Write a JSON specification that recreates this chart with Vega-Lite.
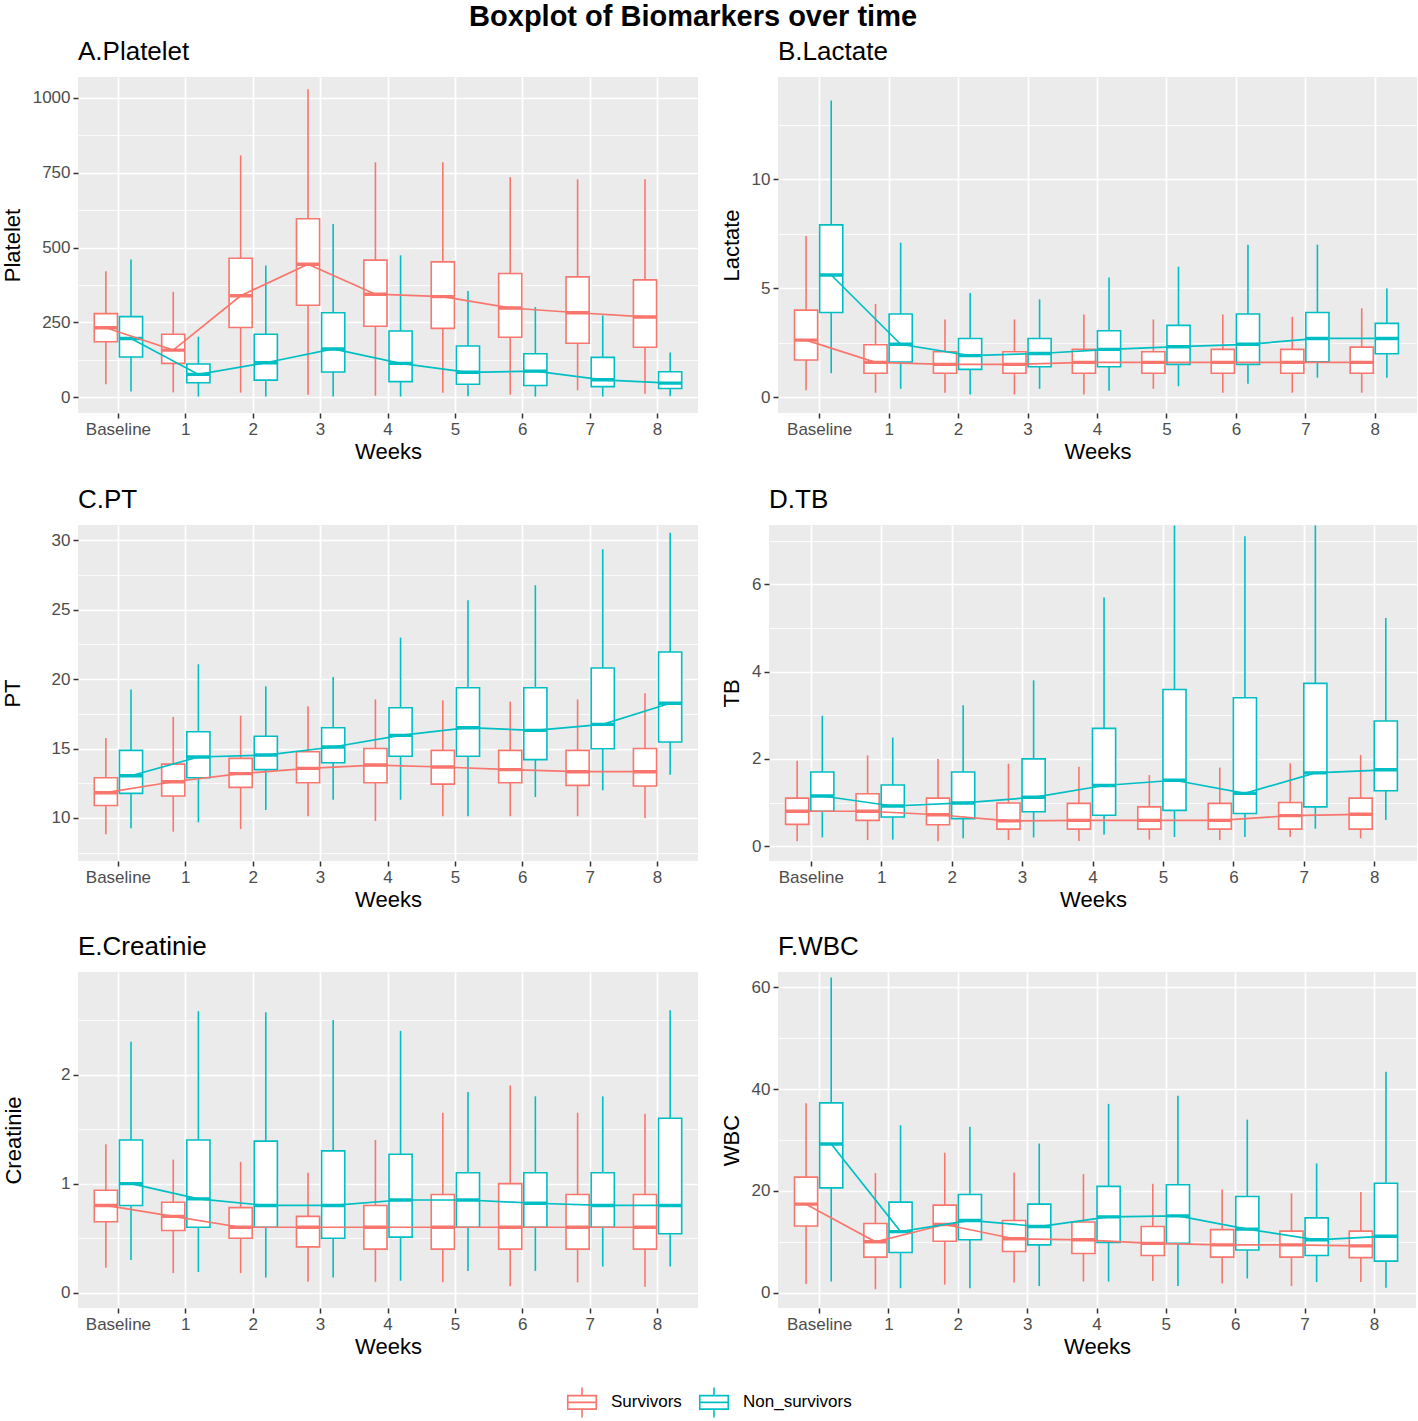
{
"$schema": "https://vega.github.io/schema/vega-lite/v6.json",
"title": {"text": "Boxplot of Biomarkers over time", "anchor": "middle", "frame": "bounds", "fontSize": 29, "fontWeight": "bold", "color": "black", "offset": 7, "dx": -16},
"padding": {"left": 1, "top": 3, "right": 2, "bottom": 2},
"background": "white",
"data": {"values": [
{"panel":"Platelet","week":"Baseline","group":"Survivors","lo":43,"q1":185,"med":232,"q3":279,"hi":421},
{"panel":"Platelet","week":"Baseline","group":"Non_survivors","lo":19,"q1":134,"med":196,"q3":269,"hi":460},
{"panel":"Platelet","week":"1","group":"Survivors","lo":16,"q1":113,"med":157,"q3":210,"hi":352},
{"panel":"Platelet","week":"1","group":"Non_survivors","lo":2,"q1":48,"med":76,"q3":111,"hi":202},
{"panel":"Platelet","week":"2","group":"Survivors","lo":15,"q1":233,"med":339,"q3":464,"hi":808},
{"panel":"Platelet","week":"2","group":"Non_survivors","lo":2,"q1":57,"med":115,"q3":210,"hi":440},
{"panel":"Platelet","week":"3","group":"Survivors","lo":8,"q1":307,"med":444,"q3":596,"hi":1029},
{"panel":"Platelet","week":"3","group":"Non_survivors","lo":2,"q1":84,"med":161,"q3":282,"hi":579},
{"panel":"Platelet","week":"4","group":"Survivors","lo":5,"q1":237,"med":344,"q3":458,"hi":785},
{"panel":"Platelet","week":"4","group":"Non_survivors","lo":2,"q1":52,"med":113,"q3":221,"hi":474},
{"panel":"Platelet","week":"5","group":"Survivors","lo":15,"q1":230,"med":336,"q3":452,"hi":785},
{"panel":"Platelet","week":"5","group":"Non_survivors","lo":3,"q1":43,"med":83,"q3":171,"hi":355},
{"panel":"Platelet","week":"6","group":"Survivors","lo":8,"q1":200,"med":298,"q3":413,"hi":735},
{"panel":"Platelet","week":"6","group":"Non_survivors","lo":2,"q1":39,"med":87,"q3":145,"hi":301},
{"panel":"Platelet","week":"7","group":"Survivors","lo":23,"q1":180,"med":282,"q3":402,"hi":728},
{"panel":"Platelet","week":"7","group":"Non_survivors","lo":2,"q1":35,"med":58,"q3":133,"hi":273},
{"panel":"Platelet","week":"8","group":"Survivors","lo":11,"q1":167,"med":268,"q3":392,"hi":728},
{"panel":"Platelet","week":"8","group":"Non_survivors","lo":3,"q1":29,"med":47,"q3":85,"hi":149},
{"panel":"Lactate","week":"Baseline","group":"Survivors","lo":0.31,"q1":1.70,"med":2.61,"q3":3.99,"hi":7.39},
{"panel":"Lactate","week":"Baseline","group":"Non_survivors","lo":1.09,"q1":3.88,"med":5.6,"q3":7.9,"hi":13.6},
{"panel":"Lactate","week":"1","group":"Survivors","lo":0.2,"q1":1.09,"med":1.59,"q3":2.4,"hi":4.27},
{"panel":"Lactate","week":"1","group":"Non_survivors","lo":0.38,"q1":1.61,"med":2.42,"q3":3.81,"hi":7.08},
{"panel":"Lactate","week":"2","group":"Survivors","lo":0.2,"q1":1.09,"med":1.5,"q3":2.08,"hi":3.56},
{"panel":"Lactate","week":"2","group":"Non_survivors","lo":0.12,"q1":1.27,"med":1.9,"q3":2.69,"hi":4.77},
{"panel":"Lactate","week":"3","group":"Survivors","lo":0.12,"q1":1.09,"med":1.5,"q3":2.08,"hi":3.56},
{"panel":"Lactate","week":"3","group":"Non_survivors","lo":0.38,"q1":1.39,"med":2.0,"q3":2.69,"hi":4.48},
{"panel":"Lactate","week":"4","group":"Survivors","lo":0.12,"q1":1.09,"med":1.59,"q3":2.19,"hi":3.79},
{"panel":"Lactate","week":"4","group":"Non_survivors","lo":0.29,"q1":1.39,"med":2.19,"q3":3.04,"hi":5.49},
{"panel":"Lactate","week":"5","group":"Survivors","lo":0.38,"q1":1.09,"med":1.59,"q3":2.08,"hi":3.56},
{"panel":"Lactate","week":"5","group":"Non_survivors","lo":0.5,"q1":1.5,"med":2.31,"q3":3.29,"hi":5.98},
{"panel":"Lactate","week":"6","group":"Survivors","lo":0.2,"q1":1.09,"med":1.59,"q3":2.19,"hi":3.79},
{"panel":"Lactate","week":"6","group":"Non_survivors","lo":0.61,"q1":1.5,"med":2.42,"q3":3.81,"hi":6.99},
{"panel":"Lactate","week":"7","group":"Survivors","lo":0.2,"q1":1.09,"med":1.59,"q3":2.19,"hi":3.68},
{"panel":"Lactate","week":"7","group":"Non_survivors","lo":0.89,"q1":1.62,"med":2.69,"q3":3.88,"hi":6.99},
{"panel":"Lactate","week":"8","group":"Survivors","lo":0.2,"q1":1.09,"med":1.59,"q3":2.29,"hi":4.07},
{"panel":"Lactate","week":"8","group":"Non_survivors","lo":0.89,"q1":1.99,"med":2.69,"q3":3.38,"hi":4.98},
{"panel":"PT","week":"Baseline","group":"Survivors","lo":8.82,"q1":10.9,"med":11.82,"q3":12.9,"hi":15.76},
{"panel":"PT","week":"Baseline","group":"Non_survivors","lo":9.25,"q1":11.77,"med":13.04,"q3":14.87,"hi":19.26},
{"panel":"PT","week":"1","group":"Survivors","lo":9.01,"q1":11.58,"med":12.61,"q3":13.88,"hi":17.27},
{"panel":"PT","week":"1","group":"Non_survivors","lo":9.68,"q1":12.9,"med":14.39,"q3":16.21,"hi":21.07},
{"panel":"PT","week":"2","group":"Survivors","lo":9.2,"q1":12.2,"med":13.19,"q3":14.29,"hi":17.37},
{"panel":"PT","week":"2","group":"Non_survivors","lo":10.57,"q1":13.48,"med":14.53,"q3":15.88,"hi":19.48},
{"panel":"PT","week":"3","group":"Survivors","lo":10.12,"q1":12.54,"med":13.57,"q3":14.77,"hi":18.04},
{"panel":"PT","week":"3","group":"Non_survivors","lo":11.31,"q1":13.98,"med":15.11,"q3":16.5,"hi":20.15},
{"panel":"PT","week":"4","group":"Survivors","lo":9.78,"q1":12.54,"med":13.81,"q3":15.0,"hi":18.54},
{"panel":"PT","week":"4","group":"Non_survivors","lo":11.31,"q1":14.44,"med":15.95,"q3":17.94,"hi":22.99},
{"panel":"PT","week":"5","group":"Survivors","lo":10.12,"q1":12.44,"med":13.67,"q3":14.87,"hi":18.47},
{"panel":"PT","week":"5","group":"Non_survivors","lo":10.12,"q1":14.44,"med":16.5,"q3":19.38,"hi":25.68},
{"panel":"PT","week":"6","group":"Survivors","lo":10.12,"q1":12.54,"med":13.48,"q3":14.87,"hi":18.37},
{"panel":"PT","week":"6","group":"Non_survivors","lo":11.51,"q1":14.2,"med":16.31,"q3":19.38,"hi":26.76},
{"panel":"PT","week":"7","group":"Survivors","lo":10.12,"q1":12.35,"med":13.33,"q3":14.87,"hi":18.54},
{"panel":"PT","week":"7","group":"Non_survivors","lo":11.99,"q1":14.99,"med":16.74,"q3":20.8,"hi":29.35},
{"panel":"PT","week":"8","group":"Survivors","lo":10.0,"q1":12.3,"med":13.33,"q3":15.0,"hi":18.98},
{"panel":"PT","week":"8","group":"Non_survivors","lo":13.11,"q1":15.47,"med":18.26,"q3":21.95,"hi":30.55},
{"panel":"TB","week":"Baseline","group":"Survivors","lo":0.11,"q1":0.5,"med":0.8,"q3":1.1,"hi":1.96},
{"panel":"TB","week":"Baseline","group":"Non_survivors","lo":0.2,"q1":0.8,"med":1.15,"q3":1.7,"hi":2.99},
{"panel":"TB","week":"1","group":"Survivors","lo":0.14,"q1":0.59,"med":0.8,"q3":1.2,"hi":2.08},
{"panel":"TB","week":"1","group":"Non_survivors","lo":0.15,"q1":0.67,"med":0.92,"q3":1.4,"hi":2.49},
{"panel":"TB","week":"2","group":"Survivors","lo":0.11,"q1":0.49,"med":0.72,"q3":1.1,"hi":2.0},
{"panel":"TB","week":"2","group":"Non_survivors","lo":0.18,"q1":0.63,"med":0.99,"q3":1.7,"hi":3.23},
{"panel":"TB","week":"3","group":"Survivors","lo":0.14,"q1":0.39,"med":0.58,"q3":0.99,"hi":1.89},
{"panel":"TB","week":"3","group":"Non_survivors","lo":0.2,"q1":0.79,"med":1.12,"q3":2.0,"hi":3.8},
{"panel":"TB","week":"4","group":"Survivors","lo":0.12,"q1":0.39,"med":0.59,"q3":0.98,"hi":1.82},
{"panel":"TB","week":"4","group":"Non_survivors","lo":0.27,"q1":0.71,"med":1.39,"q3":2.7,"hi":5.7},
{"panel":"TB","week":"5","group":"Survivors","lo":0.15,"q1":0.39,"med":0.59,"q3":0.9,"hi":1.63},
{"panel":"TB","week":"5","group":"Non_survivors","lo":0.21,"q1":0.82,"med":1.51,"q3":3.59,"hi":7.35},
{"panel":"TB","week":"6","group":"Survivors","lo":0.14,"q1":0.39,"med":0.59,"q3":0.98,"hi":1.8},
{"panel":"TB","week":"6","group":"Non_survivors","lo":0.21,"q1":0.75,"med":1.21,"q3":3.4,"hi":7.1},
{"panel":"TB","week":"7","group":"Survivors","lo":0.21,"q1":0.39,"med":0.7,"q3":1.0,"hi":1.9},
{"panel":"TB","week":"7","group":"Non_survivors","lo":0.4,"q1":0.9,"med":1.68,"q3":3.73,"hi":7.35},
{"panel":"TB","week":"8","group":"Survivors","lo":0.18,"q1":0.39,"med":0.73,"q3":1.1,"hi":2.09},
{"panel":"TB","week":"8","group":"Non_survivors","lo":0.6,"q1":1.27,"med":1.75,"q3":2.87,"hi":5.23},
{"panel":"Creatinie","week":"Baseline","group":"Survivors","lo":0.23,"q1":0.65,"med":0.8,"q3":0.94,"hi":1.36},
{"panel":"Creatinie","week":"Baseline","group":"Non_survivors","lo":0.3,"q1":0.8,"med":1.0,"q3":1.4,"hi":2.3},
{"panel":"Creatinie","week":"1","group":"Survivors","lo":0.18,"q1":0.57,"med":0.7,"q3":0.83,"hi":1.22},
{"panel":"Creatinie","week":"1","group":"Non_survivors","lo":0.19,"q1":0.6,"med":0.86,"q3":1.4,"hi":2.58},
{"panel":"Creatinie","week":"2","group":"Survivors","lo":0.18,"q1":0.5,"med":0.6,"q3":0.78,"hi":1.2},
{"panel":"Creatinie","week":"2","group":"Non_survivors","lo":0.14,"q1":0.6,"med":0.8,"q3":1.39,"hi":2.57},
{"panel":"Creatinie","week":"3","group":"Survivors","lo":0.1,"q1":0.42,"med":0.6,"q3":0.7,"hi":1.1},
{"panel":"Creatinie","week":"3","group":"Non_survivors","lo":0.14,"q1":0.5,"med":0.8,"q3":1.3,"hi":2.5},
{"panel":"Creatinie","week":"4","group":"Survivors","lo":0.1,"q1":0.4,"med":0.6,"q3":0.8,"hi":1.4},
{"panel":"Creatinie","week":"4","group":"Non_survivors","lo":0.11,"q1":0.51,"med":0.85,"q3":1.27,"hi":2.4},
{"panel":"Creatinie","week":"5","group":"Survivors","lo":0.095,"q1":0.4,"med":0.6,"q3":0.9,"hi":1.65},
{"panel":"Creatinie","week":"5","group":"Non_survivors","lo":0.2,"q1":0.6,"med":0.85,"q3":1.1,"hi":1.84},
{"panel":"Creatinie","week":"6","group":"Survivors","lo":0.06,"q1":0.4,"med":0.6,"q3":1.0,"hi":1.9},
{"panel":"Creatinie","week":"6","group":"Non_survivors","lo":0.2,"q1":0.6,"med":0.82,"q3":1.1,"hi":1.8},
{"panel":"Creatinie","week":"7","group":"Survivors","lo":0.095,"q1":0.4,"med":0.6,"q3":0.9,"hi":1.65},
{"panel":"Creatinie","week":"7","group":"Non_survivors","lo":0.24,"q1":0.6,"med":0.8,"q3":1.1,"hi":1.8},
{"panel":"Creatinie","week":"8","group":"Survivors","lo":0.055,"q1":0.4,"med":0.6,"q3":0.9,"hi":1.64},
{"panel":"Creatinie","week":"8","group":"Non_survivors","lo":0.24,"q1":0.54,"med":0.8,"q3":1.6,"hi":2.59},
{"panel":"WBC","week":"Baseline","group":"Survivors","lo":1.7,"q1":13.1,"med":17.4,"q3":22.7,"hi":37.2},
{"panel":"WBC","week":"Baseline","group":"Non_survivors","lo":2.2,"q1":20.6,"med":29.2,"q3":37.3,"hi":61.9},
{"panel":"WBC","week":"1","group":"Survivors","lo":0.7,"q1":7.0,"med":10.0,"q3":13.6,"hi":23.5},
{"panel":"WBC","week":"1","group":"Non_survivors","lo":0.9,"q1":7.9,"med":12.0,"q3":17.8,"hi":32.9},
{"panel":"WBC","week":"2","group":"Survivors","lo":1.6,"q1":10.1,"med":13.4,"q3":17.2,"hi":27.5},
{"panel":"WBC","week":"2","group":"Non_survivors","lo":0.9,"q1":10.4,"med":14.2,"q3":19.3,"hi":32.6},
{"panel":"WBC","week":"3","group":"Survivors","lo":2.0,"q1":8.1,"med":10.6,"q3":14.2,"hi":23.6},
{"panel":"WBC","week":"3","group":"Non_survivors","lo":1.3,"q1":9.4,"med":13.0,"q3":17.4,"hi":29.3},
{"panel":"WBC","week":"4","group":"Survivors","lo":2.2,"q1":7.7,"med":10.4,"q3":13.9,"hi":23.3},
{"panel":"WBC","week":"4","group":"Non_survivors","lo":2.2,"q1":9.9,"med":14.9,"q3":20.9,"hi":37.1},
{"panel":"WBC","week":"5","group":"Survivors","lo":2.3,"q1":7.3,"med":9.7,"q3":13.0,"hi":21.4},
{"panel":"WBC","week":"5","group":"Non_survivors","lo":1.3,"q1":9.7,"med":15.1,"q3":21.2,"hi":38.7},
{"panel":"WBC","week":"6","group":"Survivors","lo":1.8,"q1":7.0,"med":9.4,"q3":12.4,"hi":20.3},
{"panel":"WBC","week":"6","group":"Non_survivors","lo":2.8,"q1":8.4,"med":12.5,"q3":18.9,"hi":34.0},
{"panel":"WBC","week":"7","group":"Survivors","lo":1.3,"q1":7.0,"med":9.4,"q3":12.1,"hi":19.5},
{"panel":"WBC","week":"7","group":"Non_survivors","lo":2.1,"q1":7.3,"med":10.4,"q3":14.7,"hi":25.4},
{"panel":"WBC","week":"8","group":"Survivors","lo":2.1,"q1":6.9,"med":9.2,"q3":12.1,"hi":19.8},
{"panel":"WBC","week":"8","group":"Non_survivors","lo":1.0,"q1":6.2,"med":11.1,"q3":21.5,"hi":43.4}
]},
"spacing": 24,
"vconcat": [
{"spacing": 22, "hconcat": [
{
 "title": {"text": "A.Platelet"},
 "width": 620, "height": 336,
 "transform": [{"filter": "datum.panel === 'Platelet'"}],
 "encoding": {
  "x": {"field": "week", "type": "nominal", "sort": ["Baseline","1","2","3","4","5","6","7","8"], "scale": {"paddingInner": 0, "paddingOuter": 0.1}, "axis": {"title": "Weeks", "grid": true, "bandPosition": 0.5, "labelAngle": 0}},
  "xOffset": {"field": "group", "type": "nominal", "sort": ["Survivors","Non_survivors"], "scale": {"paddingInner": 0.08, "paddingOuter": 0.38}},
  "color": {"field": "group", "type": "nominal", "scale": {"domain": ["Survivors","Non_survivors"], "range": ["#F8766D","#00BFC4"]}, "legend": {"title": null}}
 },
 "layer": [
  {"mark": {"type": "rule", "strokeWidth": 1.6}, "encoding": {"y": {"field": "lo", "type": "quantitative", "scale": {"domain": [-53, 1070], "nice": false, "zero": false}, "axis": {"title": "Platelet", "values": [0,250,500,750,1000], "format": "d"}}, "y2": {"field": "hi"}}},
  {"mark": {"type": "bar", "filled": false, "fill": "white", "strokeWidth": 1.6}, "encoding": {"y": {"field": "q1", "type": "quantitative", "axis": {"orient": "right", "values": [125,375,625,875], "labels": false, "ticks": false, "domain": false, "title": null, "grid": true, "gridWidth": 0.8, "minExtent": 0, "maxExtent": 0}}, "y2": {"field": "q3"}}},
  {"mark": {"type": "bar", "filled": false, "strokeWidth": 3.4}, "encoding": {"y": {"field": "med", "type": "quantitative", "axis": null}, "y2": {"field": "med"}}},
  {"mark": {"type": "line", "strokeWidth": 1.7}, "encoding": {"y": {"field": "med", "type": "quantitative", "axis": null}}}
 ],
 "resolve": {"axis": {"y": "independent"}}
},
{
 "title": {"text": "B.Lactate"},
 "width": 639, "height": 336,
 "transform": [{"filter": "datum.panel === 'Lactate'"}],
 "encoding": {
  "x": {"field": "week", "type": "nominal", "sort": ["Baseline","1","2","3","4","5","6","7","8"], "scale": {"paddingInner": 0, "paddingOuter": 0.1}, "axis": {"title": "Weeks", "grid": true, "bandPosition": 0.5, "labelAngle": 0}},
  "xOffset": {"field": "group", "type": "nominal", "sort": ["Survivors","Non_survivors"], "scale": {"paddingInner": 0.08, "paddingOuter": 0.38}},
  "color": {"field": "group", "type": "nominal", "scale": {"domain": ["Survivors","Non_survivors"], "range": ["#F8766D","#00BFC4"]}, "legend": {"title": null}}
 },
 "layer": [
  {"mark": {"type": "rule", "strokeWidth": 1.6}, "encoding": {"y": {"field": "lo", "type": "quantitative", "scale": {"domain": [-0.73, 14.68], "nice": false, "zero": false}, "axis": {"title": "Lactate", "values": [0,5,10]}}, "y2": {"field": "hi"}}},
  {"mark": {"type": "bar", "filled": false, "fill": "white", "strokeWidth": 1.6}, "encoding": {"y": {"field": "q1", "type": "quantitative", "axis": {"orient": "right", "values": [2.5,7.5,12.5], "labels": false, "ticks": false, "domain": false, "title": null, "grid": true, "gridWidth": 0.8, "minExtent": 0, "maxExtent": 0}}, "y2": {"field": "q3"}}},
  {"mark": {"type": "bar", "filled": false, "strokeWidth": 3.4}, "encoding": {"y": {"field": "med", "type": "quantitative", "axis": null}, "y2": {"field": "med"}}},
  {"mark": {"type": "line", "strokeWidth": 1.7}, "encoding": {"y": {"field": "med", "type": "quantitative", "axis": null}}}
 ],
 "resolve": {"axis": {"y": "independent"}}
}
]},
{"spacing": 22, "hconcat": [
{
 "title": {"text": "C.PT"},
 "width": 620, "height": 336,
 "transform": [{"filter": "datum.panel === 'PT'"}],
 "encoding": {
  "x": {"field": "week", "type": "nominal", "sort": ["Baseline","1","2","3","4","5","6","7","8"], "scale": {"paddingInner": 0, "paddingOuter": 0.1}, "axis": {"title": "Weeks", "grid": true, "bandPosition": 0.5, "labelAngle": 0}},
  "xOffset": {"field": "group", "type": "nominal", "sort": ["Survivors","Non_survivors"], "scale": {"paddingInner": 0.08, "paddingOuter": 0.38}},
  "color": {"field": "group", "type": "nominal", "scale": {"domain": ["Survivors","Non_survivors"], "range": ["#F8766D","#00BFC4"]}, "legend": {"title": null}}
 },
 "layer": [
  {"mark": {"type": "rule", "strokeWidth": 1.6}, "encoding": {"y": {"field": "lo", "type": "quantitative", "scale": {"domain": [6.9, 31.1], "nice": false, "zero": false}, "axis": {"title": "PT", "values": [10,15,20,25,30], "titlePadding": 26.5}}, "y2": {"field": "hi"}}},
  {"mark": {"type": "bar", "filled": false, "fill": "white", "strokeWidth": 1.6}, "encoding": {"y": {"field": "q1", "type": "quantitative", "axis": {"orient": "right", "values": [7.5,12.5,17.5,22.5,27.5], "labels": false, "ticks": false, "domain": false, "title": null, "grid": true, "gridWidth": 0.8, "minExtent": 0, "maxExtent": 0}}, "y2": {"field": "q3"}}},
  {"mark": {"type": "bar", "filled": false, "strokeWidth": 3.4}, "encoding": {"y": {"field": "med", "type": "quantitative", "axis": null}, "y2": {"field": "med"}}},
  {"mark": {"type": "line", "strokeWidth": 1.7}, "encoding": {"y": {"field": "med", "type": "quantitative", "axis": null}}}
 ],
 "resolve": {"axis": {"y": "independent"}}
},
{
 "title": {"text": "D.TB"},
 "width": 648, "height": 336,
 "transform": [{"filter": "datum.panel === 'TB'"}],
 "encoding": {
  "x": {"field": "week", "type": "nominal", "sort": ["Baseline","1","2","3","4","5","6","7","8"], "scale": {"paddingInner": 0, "paddingOuter": 0.1}, "axis": {"title": "Weeks", "grid": true, "bandPosition": 0.5, "labelAngle": 0}},
  "xOffset": {"field": "group", "type": "nominal", "sort": ["Survivors","Non_survivors"], "scale": {"paddingInner": 0.08, "paddingOuter": 0.38}},
  "color": {"field": "group", "type": "nominal", "scale": {"domain": ["Survivors","Non_survivors"], "range": ["#F8766D","#00BFC4"]}, "legend": {"title": null}}
 },
 "layer": [
  {"mark": {"type": "rule", "strokeWidth": 1.6}, "encoding": {"y": {"field": "lo", "type": "quantitative", "scale": {"domain": [-0.34, 7.36], "nice": false, "zero": false}, "axis": {"title": "TB", "values": [0,2,4,6]}}, "y2": {"field": "hi"}}},
  {"mark": {"type": "bar", "filled": false, "fill": "white", "strokeWidth": 1.6}, "encoding": {"y": {"field": "q1", "type": "quantitative", "axis": {"orient": "right", "values": [1,3,5,7], "labels": false, "ticks": false, "domain": false, "title": null, "grid": true, "gridWidth": 0.8, "minExtent": 0, "maxExtent": 0}}, "y2": {"field": "q3"}}},
  {"mark": {"type": "bar", "filled": false, "strokeWidth": 3.4}, "encoding": {"y": {"field": "med", "type": "quantitative", "axis": null}, "y2": {"field": "med"}}},
  {"mark": {"type": "line", "strokeWidth": 1.7}, "encoding": {"y": {"field": "med", "type": "quantitative", "axis": null}}}
 ],
 "resolve": {"axis": {"y": "independent"}}
}
]},
{"spacing": 22, "hconcat": [
{
 "title": {"text": "E.Creatinie"},
 "width": 620, "height": 336,
 "transform": [{"filter": "datum.panel === 'Creatinie'"}],
 "encoding": {
  "x": {"field": "week", "type": "nominal", "sort": ["Baseline","1","2","3","4","5","6","7","8"], "scale": {"paddingInner": 0, "paddingOuter": 0.1}, "axis": {"title": "Weeks", "grid": true, "bandPosition": 0.5, "labelAngle": 0}},
  "xOffset": {"field": "group", "type": "nominal", "sort": ["Survivors","Non_survivors"], "scale": {"paddingInner": 0.08, "paddingOuter": 0.38}},
  "color": {"field": "group", "type": "nominal", "scale": {"domain": ["Survivors","Non_survivors"], "range": ["#F8766D","#00BFC4"]}, "legend": {"title": null}}
 },
 "layer": [
  {"mark": {"type": "rule", "strokeWidth": 1.6}, "encoding": {"y": {"field": "lo", "type": "quantitative", "scale": {"domain": [-0.14, 2.94], "nice": false, "zero": false}, "axis": {"title": "Creatinie", "values": [0,1,2], "titlePadding": 35.5}}, "y2": {"field": "hi"}}},
  {"mark": {"type": "bar", "filled": false, "fill": "white", "strokeWidth": 1.6}, "encoding": {"y": {"field": "q1", "type": "quantitative", "axis": {"orient": "right", "values": [0.5,1.5,2.5], "labels": false, "ticks": false, "domain": false, "title": null, "grid": true, "gridWidth": 0.8, "minExtent": 0, "maxExtent": 0}}, "y2": {"field": "q3"}}},
  {"mark": {"type": "bar", "filled": false, "strokeWidth": 3.4}, "encoding": {"y": {"field": "med", "type": "quantitative", "axis": null}, "y2": {"field": "med"}}},
  {"mark": {"type": "line", "strokeWidth": 1.7}, "encoding": {"y": {"field": "med", "type": "quantitative", "axis": null}}}
 ],
 "resolve": {"axis": {"y": "independent"}}
},
{
 "title": {"text": "F.WBC"},
 "width": 638, "height": 336,
 "transform": [{"filter": "datum.panel === 'WBC'"}],
 "encoding": {
  "x": {"field": "week", "type": "nominal", "sort": ["Baseline","1","2","3","4","5","6","7","8"], "scale": {"paddingInner": 0, "paddingOuter": 0.1}, "axis": {"title": "Weeks", "grid": true, "bandPosition": 0.5, "labelAngle": 0}},
  "xOffset": {"field": "group", "type": "nominal", "sort": ["Survivors","Non_survivors"], "scale": {"paddingInner": 0.08, "paddingOuter": 0.38}},
  "color": {"field": "group", "type": "nominal", "scale": {"domain": ["Survivors","Non_survivors"], "range": ["#F8766D","#00BFC4"]}, "legend": {"title": null}}
 },
 "layer": [
  {"mark": {"type": "rule", "strokeWidth": 1.6}, "encoding": {"y": {"field": "lo", "type": "quantitative", "scale": {"domain": [-3.0, 63.0], "nice": false, "zero": false}, "axis": {"title": "WBC", "values": [0,20,40,60]}}, "y2": {"field": "hi"}}},
  {"mark": {"type": "bar", "filled": false, "fill": "white", "strokeWidth": 1.6}, "encoding": {"y": {"field": "q1", "type": "quantitative", "axis": {"orient": "right", "values": [10,30,50], "labels": false, "ticks": false, "domain": false, "title": null, "grid": true, "gridWidth": 0.8, "minExtent": 0, "maxExtent": 0}}, "y2": {"field": "q3"}}},
  {"mark": {"type": "bar", "filled": false, "strokeWidth": 3.4}, "encoding": {"y": {"field": "med", "type": "quantitative", "axis": null}, "y2": {"field": "med"}}},
  {"mark": {"type": "line", "strokeWidth": 1.7}, "encoding": {"y": {"field": "med", "type": "quantitative", "axis": null}}}
 ],
 "resolve": {"axis": {"y": "independent"}}
}
]}
],
"config": {
 "font": "Liberation Sans",
 "view": {"fill": "#EBEBEB", "stroke": null},
 "axis": {"labelFontSize": 17, "labelColor": "#4D4D4D", "labelFont": "Liberation Sans", "tickColor": "#333333", "tickSize": 5, "tickWidth": 1.5, "domain": false, "gridColor": "#FFFFFF", "gridWidth": 1.7, "titleFontSize": 22, "titleFontWeight": "normal", "titleColor": "#000000", "titleFont": "Liberation Sans", "labelPadding": 3},
 "axisX": {"titlePadding": 4},
 "axisY": {"titlePadding": 8},
 "title": {"fontSize": 26, "fontWeight": "normal", "anchor": "start", "frame": "group", "color": "#000000", "offset": 12},
 "legend": {"orient": "bottom", "direction": "horizontal", "layout": {"bottom": {"anchor": "middle"}}, "labelFontSize": 17, "labelColor": "#000000", "symbolType": "M0,-1V-0.45M0,0.45V1M-0.95,-0.45H0.95V0.45H-0.95ZM-0.95,0H0.95", "symbolSize": 900, "symbolStrokeWidth": 1.6, "symbolFillColor": "white", "columnPadding": 14, "labelOffset": 13, "offset": 29}
}
}
